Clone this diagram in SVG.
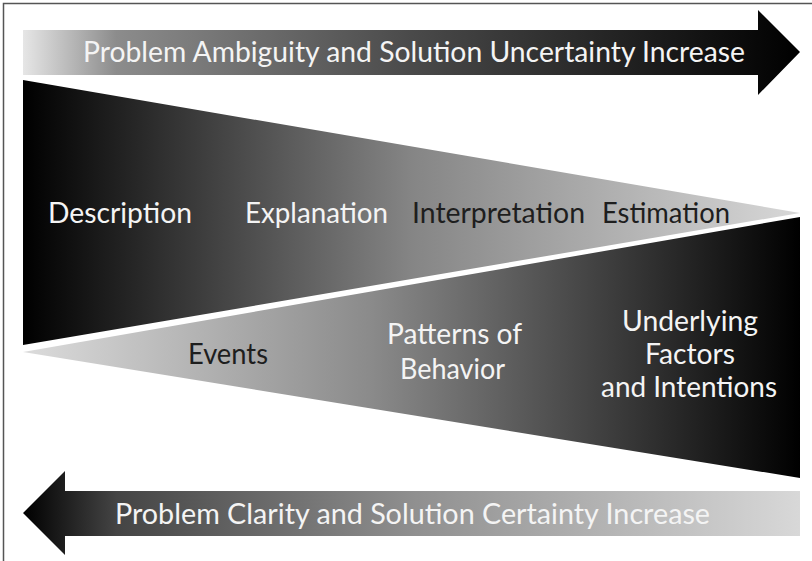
<svg xmlns="http://www.w3.org/2000/svg" width="812" height="561" viewBox="0 0 812 561">
  <defs>
    <linearGradient id="gTop" gradientUnits="userSpaceOnUse" x1="23" y1="0" x2="800" y2="0">
      <stop offset="0" stop-color="#e6e6e6"/>
      <stop offset="0.12" stop-color="#8c8c8c"/>
      <stop offset="0.5" stop-color="#4a4a4a"/>
      <stop offset="1" stop-color="#000"/>
    </linearGradient>
    <linearGradient id="gUpper" gradientUnits="userSpaceOnUse" x1="23" y1="0" x2="800" y2="0">
      <stop offset="0" stop-color="#000"/>
      <stop offset="0.5" stop-color="#858585"/>
      <stop offset="1" stop-color="#d8d8d8"/>
    </linearGradient>
    <linearGradient id="gLower" gradientUnits="userSpaceOnUse" x1="23" y1="0" x2="800" y2="0">
      <stop offset="0" stop-color="#dcdcdc"/>
      <stop offset="0.45" stop-color="#8a8a8a"/>
      <stop offset="1" stop-color="#000"/>
    </linearGradient>
    <linearGradient id="gBottom" gradientUnits="userSpaceOnUse" x1="23" y1="0" x2="800" y2="0">
      <stop offset="0" stop-color="#000"/>
      <stop offset="0.12" stop-color="#444"/>
      <stop offset="0.5" stop-color="#8f8f8f"/>
      <stop offset="1" stop-color="#d8d8d8"/>
    </linearGradient>
  </defs>
  <style>
    text { font-family: "Lato", "Liberation Sans", sans-serif; font-size: 28px; }
    .w { fill: #f4f4f4; }
    .d { fill: #1e1e1e; }
  </style>
  <rect width="812" height="561" fill="#fff"/>
  <path d="M3.5 561 V3.5 H812" fill="none" stroke="#555" stroke-width="1.5"/>

  <g id="arrow-top">
    <polygon points="23,30 758,30 758,10 800,52 758,95 758,75 23,75" fill="url(#gTop)"/>
    <text class="w" x="83" y="62" textLength="662" lengthAdjust="spacingAndGlyphs">Problem Ambiguity and Solution Uncertainty Increase</text>
  </g>

  <g id="triangle-upper">
    <polygon points="23,80 800,213 23,345" fill="url(#gUpper)"/>
    <text class="w" x="48" y="223" textLength="144" lengthAdjust="spacingAndGlyphs">Description</text>
    <text class="w" x="245" y="223" textLength="143" lengthAdjust="spacingAndGlyphs">Explanation</text>
    <text class="d" x="412" y="223" textLength="173" lengthAdjust="spacingAndGlyphs">Interpretation</text>
    <text class="d" x="602" y="223" textLength="128" lengthAdjust="spacingAndGlyphs">Estimation</text>
  </g>

  <g id="triangle-lower">
    <polygon points="23,352 800,217 800,478" fill="url(#gLower)"/>
    <text class="d" x="188" y="364" textLength="80" lengthAdjust="spacingAndGlyphs">Events</text>
    <text class="w" x="387" y="344" textLength="135" lengthAdjust="spacingAndGlyphs">Patterns of</text>
    <text class="w" x="400" y="379" textLength="105" lengthAdjust="spacingAndGlyphs">Behavior</text>
    <text class="w" x="622" y="331" textLength="136" lengthAdjust="spacingAndGlyphs">Underlying</text>
    <text class="w" x="645" y="364" textLength="90" lengthAdjust="spacingAndGlyphs">Factors</text>
    <text class="w" x="601" y="397" textLength="176" lengthAdjust="spacingAndGlyphs">and Intentions</text>
  </g>

  <g id="arrow-bottom">
    <polygon points="23,513 65,471 65,491 800,491 800,536 65,536 65,555" fill="url(#gBottom)"/>
    <text class="w" x="115" y="524" textLength="595" lengthAdjust="spacingAndGlyphs">Problem Clarity and Solution Certainty Increase</text>
  </g>

  <g id="connectors"/>
</svg>
